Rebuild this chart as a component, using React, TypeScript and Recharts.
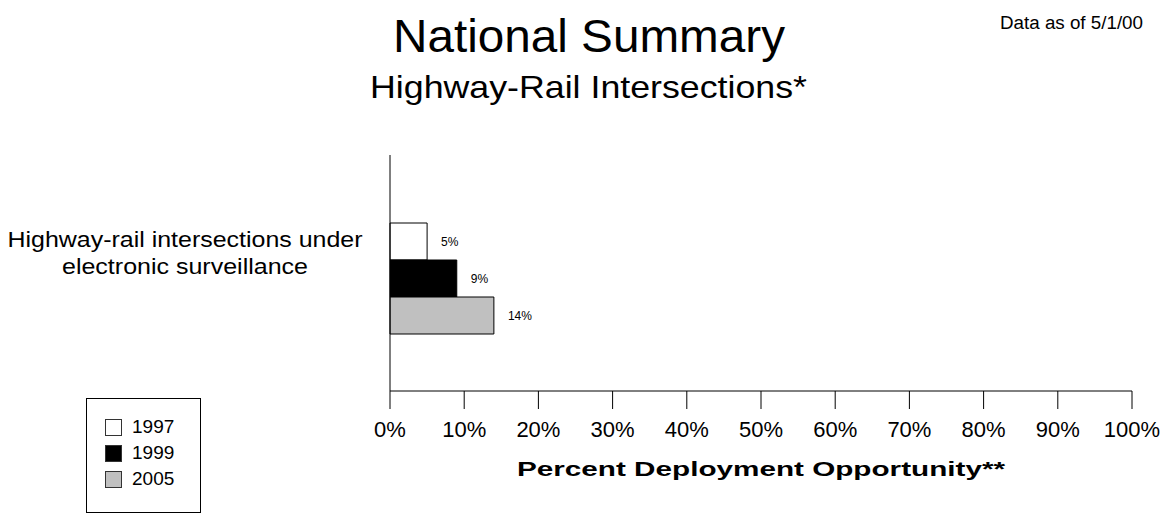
import { BarChart, Bar, XAxis, YAxis, LabelList } from "recharts";

const FONT = "Arial, 'Liberation Sans', sans-serif";

const CATEGORIES = ["Highway-rail intersections under electronic surveillance"];
const CATEGORY_LINES = [["Highway-rail intersections under", "electronic surveillance"]];
const YEARS = ["1997", "1999", "2005"];
const VALUES_1997 = [5];
const VALUES_1999 = [9];
const VALUES_2005 = [14];
const X_TICKS = [0, 10, 20, 30, 40, 50, 60, 70, 80, 90, 100];
const FILLS = ["#ffffff", "#000000", "#c0c0c0"];

const SERIES = [VALUES_1997, VALUES_1999, VALUES_2005];

const data = CATEGORIES.map((name, i) => {
  const row: Record<string, string | number> = { name };
  YEARS.forEach((y, s) => {
    row["y" + y] = SERIES[s][i];
  });
  return row;
});

function CategoryTick(props: any) {
  const { x, y, index } = props;
  const lines = CATEGORY_LINES[index] || [];
  const widths = [355, 246];
  return (
    <g>
      {lines.map((line, i) => (
        <text
          key={i}
          x={x - 205}
          y={y - 31 + i * 27}
          textAnchor="middle"
          fontSize={22}
          fontFamily={FONT}
          fill="#000"
          textLength={widths[i]}
          lengthAdjust="spacingAndGlyphs"
        >
          {line}
        </text>
      ))}
    </g>
  );
}

export default function App() {
  return (
    <div style={{ position: "absolute", left: 0, top: 0, width: 1175, height: 518, background: "#fff" }}>
      <BarChart
        width={1175}
        height={518}
        data={data}
        layout="vertical"
        margin={{ top: 155, right: 43, bottom: 67, left: 0 }}
        barGap={0}
      >
        <XAxis
          type="number"
          domain={[0, 100]}
          ticks={X_TICKS}
          tickFormatter={(v) => `${v}%`}
          height={60}
          tickSize={18}
          tickMargin={12}
          stroke="#000"
          axisLine={{ stroke: "#000" }}
          tickLine={{ stroke: "#000" }}
          tick={{ fill: "#000", fontSize: 22, fontFamily: FONT }}
          interval={0}
        />
        <YAxis
          type="category"
          dataKey="name"
          width={390}
          padding={{ top: 10, bottom: 0 }}
          tickLine={false}
          tickSize={0}
          tickMargin={0}
          axisLine={{ stroke: "#000" }}
          tick={<CategoryTick />}
        />
        {YEARS.map((y, s) => (
          <Bar
            key={y}
            dataKey={"y" + y}
            name={y}
            fill={FILLS[s]}
            stroke="#000"
            strokeWidth={1}
            barSize={37}
            isAnimationActive={false}
          >
            <LabelList
              dataKey={"y" + y}
              position="right"
              offset={14}
              formatter={(v: any) => `${v}%`}
              style={{ fill: "#000", fontSize: 12, fontFamily: FONT }}
            />
          </Bar>
        ))}
      </BarChart>

      <svg
        width={1175}
        height={518}
        style={{ position: "absolute", left: 0, top: 0, pointerEvents: "none" }}
      >
        <text x={589} y={52} textAnchor="middle" fontSize={47} fontFamily={FONT} fill="#000" textLength={392} lengthAdjust="spacingAndGlyphs">
          National Summary
        </text>
        <text x={588.5} y={98} textAnchor="middle" fontSize={32} fontFamily={FONT} fill="#000" textLength={437} lengthAdjust="spacingAndGlyphs">
          Highway-Rail Intersections*
        </text>
        <text x={1071.5} y={29} textAnchor="middle" fontSize={18} fontFamily={FONT} fill="#000" textLength={143} lengthAdjust="spacingAndGlyphs">
          Data as of 5/1/00
        </text>
        <text x={761} y={476} textAnchor="middle" fontSize={21} fontWeight="bold" fontFamily={FONT} fill="#000" textLength={488} lengthAdjust="spacingAndGlyphs">
          Percent Deployment Opportunity**
        </text>
      </svg>

      <div
        style={{
          position: "absolute",
          left: 86,
          top: 398,
          width: 113,
          height: 113,
          border: "1px solid #000",
          fontFamily: FONT,
        }}
      >
        {YEARS.map((y, s) => (
          <div
            key={y}
            style={{
              position: "absolute",
              left: 18,
              top: 18 + s * 26,
              height: 20,
              display: "flex",
              alignItems: "center",
            }}
          >
            <div
              style={{
                width: 15,
                height: 15,
                background: FILLS[s],
                border: "1px solid #333",
                marginRight: 10,
              }}
            />
            <span style={{ fontSize: 19, lineHeight: "20px", color: "#000" }}>{y}</span>
          </div>
        ))}
      </div>
    </div>
  );
}
